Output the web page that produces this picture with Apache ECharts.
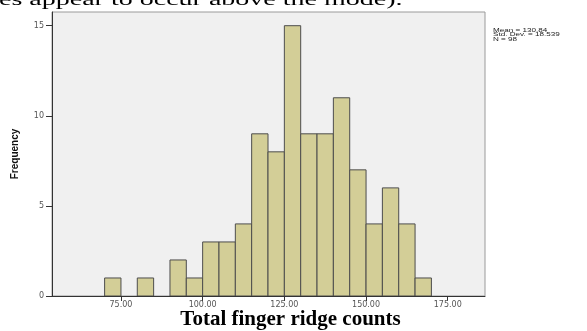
<!DOCTYPE html>
<html>
<head>
<meta charset="utf-8">
<script src="https://cdn.jsdelivr.net/npm/echarts@6/dist/echarts.min.js"></script>
<style>
html,body{margin:0;padding:0;background:#fff;}
#chart{width:587px;height:331px;}
</style>
</head>
<body>
<div id="chart"></div>
<script>
// Histogram bins (lower edges), bin width and frequencies
const binLower = [70, 80, 90, 95, 100, 105, 110, 115, 120, 125, 130, 135, 140, 145, 150, 155, 160, 165];
const binWidth = 5;
const counts = [1, 1, 2, 1, 3, 3, 4, 9, 8, 15, 9, 9, 11, 7, 4, 6, 4, 1];
const xTicks = [75, 100, 125, 150, 175];
const yTicks = [0, 5, 10, 15];
const statsLines = ['Mean = 130.84', 'Std. Dev. = 18.539', 'N = 98'];
const xTitle = 'Total finger ridge counts';
const yTitle = 'Frequency';
const topText = 'es appear to occur above the mode).';

const data = binLower.map((lo, i) => [lo, lo + binWidth, counts[i]]);

const chart = echarts.init(document.getElementById('chart'), null, {renderer: 'canvas'});
chart.setOption({
  animation: false,
  grid: {
    left: 52, right: 102, top: 12, bottom: 35,
    show: true, backgroundColor: '#f0f0f0', borderColor: '#9a9a9a', borderWidth: 1
  },
  xAxis: {
    type: 'value', min: 53.9, max: 186.4,
    axisLine: {show: true, onZero: false, lineStyle: {color: '#333', width: 1}},
    axisTick: {show: true, customValues: xTicks, length: 5, lineStyle: {color: '#333'}},
    axisLabel: {customValues: xTicks, formatter: v => v.toFixed(2), color: '#555',
      fontSize: 8, fontFamily: 'DejaVu Sans', margin: 5},
    splitLine: {show: false}
  },
  yAxis: {
    type: 'value', min: 0, max: 15.76,
    name: yTitle, nameLocation: 'middle', nameGap: 32, nameRotate: 90,
    nameTextStyle: {fontFamily: 'Liberation Sans', fontWeight: 'bold', fontSize: 10, color: '#111'},
    axisLine: {show: true, lineStyle: {color: '#333', width: 1}},
    axisTick: {show: true, customValues: yTicks, length: 6, lineStyle: {color: '#333'}},
    axisLabel: {customValues: yTicks, color: '#555', fontSize: 8, fontFamily: 'DejaVu Sans', margin: 8},
    splitLine: {show: false}
  },
  series: [{
    type: 'custom',
    clip: true,
    data: data,
    encode: {x: [0, 1], y: 2},
    renderItem: function (params, api) {
      const p0 = api.coord([api.value(0), 0]);
      const p1 = api.coord([api.value(1), api.value(2)]);
      return {
        type: 'rect',
        shape: {x: p0[0], y: p1[1], width: p1[0] - p0[0], height: p0[1] - p1[1]},
        style: {fill: '#d3ce97', stroke: '#4d4d4d', lineWidth: 1}
      };
    }
  }],
  graphic: [
    {type: 'text', x: 290.5, y: 319.5, style: {text: xTitle, fontFamily: 'Liberation Serif', fontWeight: 'bold',
      fontSize: 21, fill: '#000', align: 'center', verticalAlign: 'middle'}},
    {type: 'text', x: 493, y: 27.5, scaleX: 1.35, style: {text: statsLines.join('\n'), fontFamily: 'Liberation Sans',
      fontSize: 6, lineHeight: 4.8, fill: '#222', align: 'left', verticalAlign: 'top'}},
    {type: 'text', x: -1, y: 9, scaleY: 0.6, style: {text: topText, fontFamily: 'Liberation Serif',
      fontSize: 28, fill: '#000', align: 'left', verticalAlign: 'bottom'}}
  ]
});
</script>
</body>
</html>
